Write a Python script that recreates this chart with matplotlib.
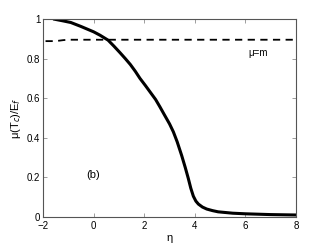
import matplotlib
matplotlib.use("Agg")
import matplotlib.pyplot as plt

plt.rcParams['font.family'] = ['Liberation Sans', 'DejaVu Sans']

eta = [-1.6, -1.2, -0.9, -0.5, 0.0, 0.25, 0.57, 0.8, 1.04, 1.25, 1.45, 1.65, 1.83,
       2.05, 2.25, 2.45, 2.62, 2.8, 3.0, 3.15, 3.3, 3.48, 3.62, 3.74, 3.84, 3.94,
       4.04, 4.14, 4.3, 4.47, 4.7, 4.92, 5.5, 6.0, 7.0, 8.0]
mu_tc = [1.0, 0.99, 0.982, 0.962, 0.935, 0.918, 0.893, 0.863, 0.83, 0.80, 0.77, 0.735, 0.70,
         0.663, 0.628, 0.593, 0.556, 0.515, 0.47, 0.43, 0.38, 0.31, 0.25, 0.195, 0.145, 0.105,
         0.08, 0.065, 0.05, 0.04, 0.032, 0.026, 0.019, 0.016, 0.012, 0.01]

eta_m = [-1.9, -1.5, -1.2, -1.0, 0.0, 2.0, 4.0, 6.0, 8.0]
mu_m = [0.888, 0.888, 0.893, 0.895, 0.895, 0.895, 0.895, 0.895, 0.895]

fig = plt.figure(figsize=(3.27, 2.46), dpi=100)
ax = fig.add_axes([0.1315, 0.118, 0.774, 0.805])

ax.plot(eta, mu_tc, color='black', lw=2.2, solid_capstyle='butt', solid_joinstyle='round')
ax.plot(eta_m, mu_m, color='black', lw=1.3, dashes=(4, 3))

ax.set_xlim(-2, 8)
ax.set_ylim(0, 1)
ax.set_xticks([-2, 0, 2, 4, 6, 8])
ax.set_yticks([0, 0.2, 0.4, 0.6, 0.8, 1])
ax.set_yticklabels(['0', '0.2', '0.4', '0.6', '0.8', '1'])
ax.tick_params(direction='in', top=True, right=True, labelsize=7, length=3,
               width=0.5, color='#777777')
ax.tick_params(axis='x', pad=3)
ax.tick_params(axis='y', pad=2)
for s in ax.spines.values():
    s.set_linewidth(0.8)
    s.set_color('#555555')

ax.set_xlabel('η', fontsize=8, labelpad=1)
ax.set_ylabel(r'μ(T$_c$)/E$_f$', fontsize=8, labelpad=3)

ax.text(6.1, 0.83, 'μ=m', fontsize=7, va='center', ha='left')
ax.text(0.0, 0.21, '(b)', fontsize=8, va='center', ha='center')

fig.savefig('out.png', dpi=100)
